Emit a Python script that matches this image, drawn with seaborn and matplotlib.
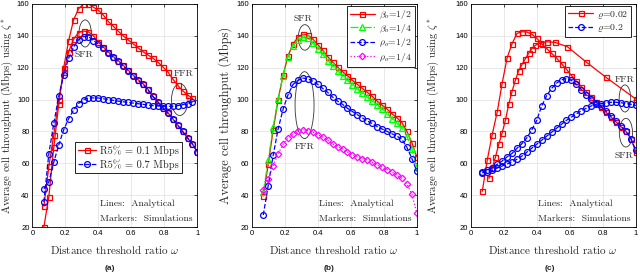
import matplotlib
matplotlib.use("Agg")
import matplotlib.pyplot as plt
from matplotlib.patches import Ellipse
from matplotlib.lines import Line2D
import seaborn as sns

# ---------------- data ----------------
W = [0.07, 0.10, 0.13, 0.16, 0.19, 0.22, 0.25, 0.28, 0.31, 0.34, 0.37, 0.40,
     0.43, 0.46, 0.49, 0.52, 0.55, 0.58, 0.61, 0.64, 0.67, 0.70, 0.73, 0.76,
     0.79, 0.82, 0.85, 0.88, 0.91, 0.94, 0.97, 1.00]
W_ffr = W[:-1]

# panel (a)
a_red_ffr = [20, 39, 70, 97, 120, 137, 150, 157, 160, 160, 158, 156, 153, 149, 146, 143,
             140, 137.5, 135, 132.5, 130, 128, 126, 123.5, 120.5, 117.5, 113, 109, 105.5, 103, 100.7]
a_red_sfr = [33, 58, 78, 100, 117, 130, 138, 142, 143, 142.5, 140, 136, 133, 130, 127, 124.5,
             121.6, 118.5, 115.5, 112.5, 110, 106.5, 102, 98.5, 95, 92, 88, 84, 80, 76, 72, 67]
a_blue_sfr = [35.7, 66, 85, 102, 115.5, 126, 133, 137.5, 139.5, 139.5, 137, 135, 132.5, 129.5,
              126.5, 124, 121, 118, 115, 112, 109.5, 106, 102, 98.5, 95, 91.5, 88, 84, 80, 76, 72, 67]
a_blue_ffr = [44, 48.3, 60.7, 71.5, 81, 88, 93.5, 97.5, 100, 101, 101, 101, 100.5, 100, 99.5, 99,
              98.6, 98.2, 97.8, 97.4, 97, 96.6, 96.2, 96, 95.8, 95.8, 95.8, 96.2, 96.8, 97.5, 98.5]
a_labels = ["R5% = 0.1 Mbps", "R5% = 0.7 Mbps"]

# panel (b)
b_beta_half = [39.5, 59.5, 81, 100, 115.5, 127.5, 135, 139, 141, 140.5, 138, 134.5, 131, 127,
               123.5, 120.5, 117.5, 115, 112, 109.5, 107, 104.5, 102, 99, 96.5, 94, 91, 88.5,
               85.5, 80, 73, 64]
b_beta_quarter = [42, 62, 83, 100.5, 115, 127, 133.5, 137.5, 139, 138.5, 135.5, 132, 128.5,
                  124.5, 121, 118, 115, 112, 109, 106.5, 104, 101.5, 99, 96.5, 94, 91, 88, 85,
                  82, 77, 69, 57.5]
b_rho_half = [27.5, 46, 65, 81.5, 94, 103, 109.5, 112, 113.5, 113, 111.5, 109.5, 107, 104.5,
              101.5, 99, 97, 94.5, 92.5, 90.5, 88.5, 86.5, 85, 83, 81.5, 80, 78.5, 77, 75, 70, 63, 55]
b_rho_quarter = [43, 50, 58.5, 66, 72, 76, 78.5, 80.5, 81, 80.5, 79.5, 78, 76.5, 74.5, 72, 70.5,
                 69, 67, 65.5, 64, 63, 62, 60.5, 59, 57.5, 56, 54.5, 52.5, 50.5, 47, 40.5, 28.7]
b_labels = [r"$\beta_o$=1/2", r"$\beta_o$=1/4", r"$\rho_o$=1/2", r"$\rho_o$=1/4"]

# panel (c)
c_red_sfr = [42.4, 62, 78, 92, 110, 126, 135, 141.5, 142.6, 142.4, 141, 138.5, 135, 132, 129,
             126, 122.5, 119, 115, 111.5, 108, 105, 101.7, 98.5, 95.4, 92, 89, 86, 83, 80, 75.5, 67]
c_red_ffr_x = [0.11, 0.13, 0.15, 0.17, 0.19, 0.21, 0.23, 0.25, 0.27, 0.29, 0.31, 0.33, 0.35,
               0.37, 0.39, 0.42, 0.46, 0.51, 0.585, 0.70, 0.82, 1.00]
c_red_ffr = [50.5, 57, 64, 72, 79, 87, 97, 105, 112, 118, 122, 125.5, 129, 132, 134, 135.5,
             136.3, 135.9, 133.2, 123.5, 113.9, 100.3]
c_blue_sfr = [54.5, 55.5, 57.2, 59.3, 61.4, 64, 66.2, 69.4, 72.3, 76, 81, 87, 96, 102.5, 107,
              110.3, 112.4, 113.2, 112, 109.5, 106.3, 103, 100.3, 98, 96, 92.7, 89.5, 86.5, 83.5,
              80, 75.5, 68.2]
c_blue_ffr = [54, 54.5, 55.5, 57, 58.3, 59.5, 61, 62.5, 64.5, 67, 69.5, 72, 74.5, 77, 79.5, 82,
              84.5, 87, 89, 91, 93, 94.5, 96, 97, 97.5, 98, 98.3, 98.3, 98, 97.5, 97, 96.3]
c_labels = [r"$\varrho$=0.02", r"$\varrho$=0.2"]

x_ticks = [0, 0.2, 0.4, 0.6, 0.8, 1.0]
x_ticklabels = ["0", "0.2", "0.4", "0.6", "0.8", "1"]
y_ticks = [20, 40, 60, 80, 100, 120, 140, 160]

# ---------------- style ----------------
sns.set_theme(style="whitegrid")
plt.rcParams["font.family"] = ["Liberation Sans", "DejaVu Sans"]
plt.rcParams["mathtext.fontset"] = "cm"
SERIF = "cmr10"

RED, BLUE, GREEN, MAG = "#ff0000", "#0000ff", "#00ff00", "#ff00ff"
STY = {
    "red": dict(color=RED, ls="-", marker="s", ms=3.6),
    "blue": dict(color=BLUE, ls="--", marker="o", ms=4.2),
    "green": dict(color=GREEN, ls="-.", marker="^", ms=4.2),
    "mag": dict(color=MAG, ls=":", marker="D", ms=3.3),
}


def draw(ax, x, y, st):
    s = STY[st]
    sns.lineplot(x=x, y=y, ax=ax, color=s["color"], linestyle=s["ls"], marker=s["marker"],
                 markersize=s["ms"], markerfacecolor="none", markeredgecolor=s["color"],
                 markeredgewidth=0.9, linewidth=0.9, sort=False, estimator=None, legend=False)


def handle(st):
    s = STY[st]
    return Line2D([], [], color=s["color"], linestyle=s["ls"], marker=s["marker"],
                  markersize=s["ms"], markerfacecolor="none", markeredgecolor=s["color"],
                  markeredgewidth=0.9, linewidth=0.9)


fig = plt.figure(figsize=(6.4, 2.72), dpi=100)
axw, axh, axb = 0.258, 0.820, 0.1654
lefts = [0.0505, 0.3933, 0.7355]
axes = [fig.add_axes([l, axb, axw, axh]) for l in lefts]

ax = axes[0]
draw(ax, W_ffr, a_red_ffr, "red")
draw(ax, W, a_red_sfr, "red")
draw(ax, W, a_blue_sfr, "blue")
draw(ax, W_ffr, a_blue_ffr, "blue")

ax = axes[1]
draw(ax, W, b_beta_half, "red")
draw(ax, W, b_beta_quarter, "green")
draw(ax, W, b_rho_half, "blue")
draw(ax, W, b_rho_quarter, "mag")

ax = axes[2]
draw(ax, W, c_red_sfr, "red")
draw(ax, c_red_ffr_x, c_red_ffr, "red")
draw(ax, W, c_blue_sfr, "blue")
draw(ax, W, c_blue_ffr, "blue")

ylabels = [r"Average cell throughput (Mbps) using $\zeta^{*}$",
           "Average cell throughput (Mbps)",
           r"Average cell throughput (Mbps) using $\zeta^{*}$"]
ylab_x = [-0.104, -0.122, -0.180]
ylab_size = [7.8, 9.0, 7.8]
for i, ax in enumerate(axes):
    ax.set_xlim(0, 1)
    ax.set_ylim(20, 160)
    ax.set_xticks(x_ticks)
    ax.set_xticklabels(x_ticklabels)
    ax.set_yticks(y_ticks)
    ax.grid(True, color="#dedede", linewidth=0.5)
    ax.set_facecolor("white")
    for sp in ax.spines.values():
        sp.set_color("black")
        sp.set_linewidth(0.6)
    ax.tick_params(direction="in", top=True, right=True, length=2.5, width=0.5,
                   labelsize=5.5, pad=2, colors="black")
    ax.set_xlabel(r"Distance threshold ratio $\omega$", fontfamily=SERIF, fontsize=8)
    ax.xaxis.set_label_coords(0.5, -0.072)
    ax.set_ylabel(ylabels[i], fontfamily=SERIF, fontsize=ylab_size[i])
    ax.yaxis.set_label_coords(ylab_x[i], 0.5)
    ax.text(0.41, 34.6, "Lines:  Analytical", fontfamily=SERIF, fontsize=7, va="center")
    ax.text(0.41, 25.0, "Markers:  Simulations", fontfamily=SERIF, fontsize=7, va="center")

ell = dict(fill=False, edgecolor="#333333", linewidth=0.6)
# (a)
axes[0].add_patch(Ellipse((0.32, 141.5), 0.075, 17, **ell))
axes[0].add_patch(Ellipse((0.893, 100), 0.1, 20, **ell))
axes[0].text(0.315, 128, "SFR", fontfamily=SERIF, fontsize=7, ha="center", va="center")
axes[0].text(0.914, 116, "FFR", fontfamily=SERIF, fontsize=7, ha="center", va="center")
# (b)
axes[1].add_patch(Ellipse((0.322, 139), 0.08, 16, **ell))
axes[1].add_patch(Ellipse((0.32, 96.5), 0.115, 42, **ell))
axes[1].text(0.312, 151, "SFR", fontfamily=SERIF, fontsize=7, ha="center", va="center")
axes[1].text(0.318, 70.3, "FFR", fontfamily=SERIF, fontsize=7, ha="center", va="center")
# (c)
axes[2].add_patch(Ellipse((0.934, 100.7), 0.07, 17, **ell))
axes[2].add_patch(Ellipse((0.94, 79.2), 0.08, 18, **ell))
axes[2].text(0.935, 112.2, "FFR", fontfamily=SERIF, fontsize=7, ha="center", va="center")
axes[2].text(0.929, 64.4, "SFR", fontfamily=SERIF, fontsize=7, ha="center", va="center")

leg_kw = dict(frameon=True, fancybox=False, framealpha=1, edgecolor="black",
              borderpad=0.3, handletextpad=0.4, borderaxespad=0.2)
axes[0].legend([handle("red"), handle("blue")], a_labels, loc="lower right",
               bbox_to_anchor=(0.918, 0.232), handlelength=1.7, labelspacing=0.35,
               prop={"family": SERIF, "size": 7.5}, **leg_kw)
axes[1].legend([handle("red"), handle("green"), handle("blue"), handle("mag")], b_labels,
               loc="upper right", bbox_to_anchor=(1, 1), handlelength=2.6, labelspacing=0.15,
               prop={"family": SERIF, "size": 7}, **leg_kw)
axes[2].legend([handle("red"), handle("blue")], c_labels,
               loc="upper right", bbox_to_anchor=(0.985, 1), handlelength=2.6, labelspacing=0.15,
               prop={"family": SERIF, "size": 7}, **leg_kw)
for a in axes:
    a.get_legend().get_frame().set_linewidth(0.6)

for xc, t in zip([0.172, 0.514, 0.859], ["(a)", "(b)", "(c)"]):
    fig.text(xc, 0.0147, t, fontsize=6, fontweight="bold", ha="center", va="center")

fig.savefig("out.png", dpi=100)
